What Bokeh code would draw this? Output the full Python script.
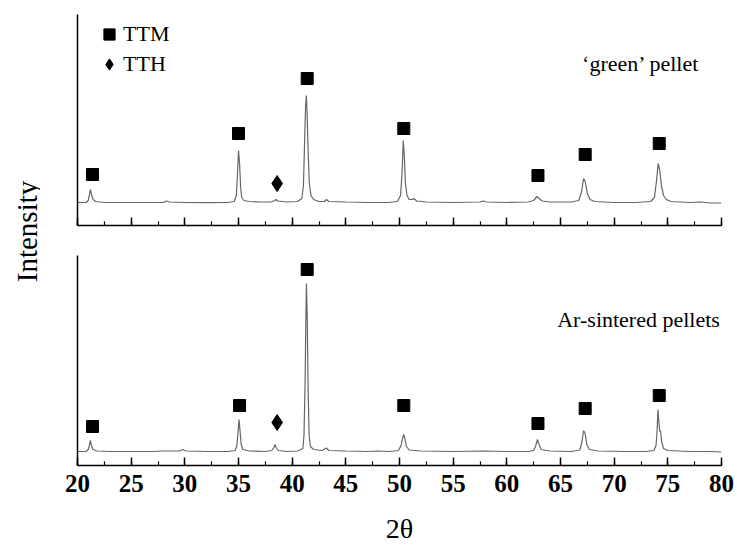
import math
from bokeh.plotting import figure
from bokeh.layouts import row, column
from bokeh.models import (Range1d, SingleIntervalTicker, FixedTicker, Label, Legend,
                          LegendItem, CustomJSTickFormatter)
from bokeh.embed import file_html
from bokeh.resources import INLINE

# ---------------- data ----------------
# 'green' pellet pattern
two_theta_green = [20.0, 20.8, 21.0, 21.1, 21.2, 21.3, 21.45, 21.7, 22.5, 24.0, 26.0, 28.0, 28.3, 28.6,
                   30.0, 32.0, 34.0, 34.6, 34.8, 34.9, 35.0, 35.1, 35.2, 35.3, 35.5, 36.0, 37.0, 38.0,
                   38.4, 38.5, 38.65, 39.5, 40.5, 40.9, 41.05, 41.15, 41.25, 41.32, 41.4, 41.5, 41.6,
                   41.75, 42.0, 42.5, 43.0, 43.2, 43.4, 45.0, 47.0, 49.0, 49.8, 50.1, 50.25, 50.35,
                   50.45, 50.55, 50.7, 50.9, 51.2, 51.35, 51.6, 52.5, 55.0, 57.5, 57.8, 58.1, 60.0,
                   62.0, 62.5, 62.8, 63.0, 63.3, 64.0, 66.0, 66.7, 66.95, 67.15, 67.3, 67.5, 67.75,
                   68.2, 70.0, 72.0, 73.4, 73.75, 73.95, 74.1, 74.25, 74.4, 74.6, 74.85, 75.3, 77.0,
                   78.0, 79.0, 80.0]
intensity_green = [23.0, 23.0, 25.0, 30.0, 36.0, 31.0, 26.0, 24.0, 23.0, 23.0, 23.0, 23.0, 24.5, 23.5,
                   23.0, 22.8, 23.0, 24.0, 30.0, 50.0, 75.0, 62.0, 38.0, 28.0, 25.0, 24.0, 23.5, 23.5,
                   25.0, 26.0, 24.5, 23.5, 24.0, 27.0, 40.0, 80.0, 120.0, 130.0, 110.0, 70.0, 42.0,
                   30.0, 26.0, 24.0, 24.0, 26.0, 24.0, 23.5, 23.0, 23.0, 24.0, 30.0, 55.0, 85.0,
                   70.0, 42.0, 30.0, 26.0, 26.0, 27.0, 24.5, 23.5, 23.0, 23.5, 24.5, 23.5, 23.0,
                   23.5, 25.0, 29.0, 27.0, 24.5, 23.5, 23.5, 25.0, 33.0, 47.0, 44.0, 32.0, 26.0,
                   24.0, 23.0, 23.0, 24.0, 28.0, 45.0, 62.0, 55.0, 40.0, 30.0, 26.0, 24.0, 23.0,
                   23.5, 22.5, 22.5]

# Ar-sintered pellets pattern
two_theta_ar = [20.0, 20.8, 21.0, 21.1, 21.2, 21.3, 21.45, 21.8, 23.0, 25.0, 27.0, 28.0, 29.5, 29.8,
                30.1, 32.0, 34.0, 34.7, 34.85, 34.95, 35.05, 35.15, 35.25, 35.4, 36.0, 37.5, 38.1,
                38.3, 38.4, 38.5, 38.7, 39.5, 40.5, 41.0, 41.1, 41.2, 41.28, 41.33, 41.4, 41.48,
                41.58, 41.7, 42.0, 42.8, 43.1, 43.2, 43.4, 45.0, 47.0, 48.0, 49.0, 49.9, 50.15,
                50.3, 50.4, 50.5, 50.65, 50.9, 52.0, 55.0, 57.8, 60.0, 62.0, 62.5, 62.7, 62.85,
                63.0, 63.2, 64.0, 66.0, 66.8, 67.0, 67.15, 67.3, 67.45, 67.7, 68.5, 71.0, 73.0,
                73.7, 73.9, 74.0, 74.08, 74.15, 74.25, 74.32, 74.42, 74.6, 75.0, 77.0, 79.0, 80.0]
intensity_ar = [14.0, 14.0, 16.0, 20.0, 25.0, 20.0, 16.0, 14.5, 14.0, 14.0, 14.0, 14.5, 14.5, 16.0,
                14.5, 14.0, 14.0, 15.0, 20.0, 32.0, 46.0, 34.0, 21.0, 16.0, 14.5, 14.0, 15.0,
                18.0, 21.0, 18.0, 15.0, 14.0, 14.5, 17.0, 30.0, 80.0, 150.0, 182.0, 150.0, 80.0,
                30.0, 19.0, 16.0, 15.0, 17.0, 17.5, 15.0, 14.5, 14.0, 14.5, 14.0, 15.0, 20.0,
                28.0, 31.0, 27.0, 19.0, 15.5, 14.5, 14.0, 14.5, 14.0, 14.0, 15.0, 20.0, 26.0,
                21.0, 16.0, 14.5, 14.0, 15.5, 24.0, 35.0, 32.0, 21.0, 16.0, 14.5, 14.0, 14.0,
                15.0, 20.0, 35.0, 56.0, 45.0, 34.0, 35.0, 24.0, 17.0, 15.0, 14.0, 14.0, 13.5]

# phase markers (position, marker height)
ttm_pos_green = [21.4, 35.0, 41.4, 50.4, 62.9, 67.3, 74.2]
ttm_h_green = [51, 92, 147, 97, 50, 71, 82]
tth_pos_green = [38.6]
tth_h_green = [42]

ttm_pos_ar = [21.4, 35.1, 41.4, 50.4, 62.9, 67.3, 74.2]
ttm_h_ar = [39, 60, 196, 60, 42, 57, 70]
tth_pos_ar = [38.6]
tth_h_ar = [43]

x_ticks_interval = 5
panel_names = ["\u2018green\u2019 pellet", "Ar-sintered pellets"]
legend_names = ["TTM", "TTH"]

FONT = "Liberation Serif"
LINE_COLOR = "#666666"


def make_panel(height, border_top, border_bottom, ymax, show_labels):
    p = figure(width=697, height=height, output_backend="svg", toolbar_location=None,
               x_range=Range1d(20, 80), y_range=Range1d(0, ymax),
               min_border_left=37, min_border_right=16,
               min_border_top=border_top, min_border_bottom=border_bottom)
    p.outline_line_color = None
    p.xgrid.visible = False
    p.ygrid.visible = False
    p.background_fill_color = "white"
    p.border_fill_color = "white"

    xa = p.xaxis[0]
    xa.ticker = SingleIntervalTicker(interval=x_ticks_interval, num_minor_ticks=2)
    xa.axis_line_color = "black"
    xa.axis_line_width = 1.5
    xa.major_tick_in = 8
    xa.major_tick_out = 0
    xa.minor_tick_in = 4
    xa.minor_tick_out = 0
    xa.major_tick_line_width = 1.5
    xa.minor_tick_line_width = 1.2
    xa.major_tick_line_color = "black"
    xa.minor_tick_line_color = "black"
    if show_labels:
        xa.major_label_text_font = FONT
        xa.major_label_text_font_style = "bold"
        xa.major_label_text_font_size = "25px"
        xa.major_label_text_color = "black"
        xa.major_label_standoff = 9
        xa.axis_label = "2\u03b8"
        xa.axis_label_text_font = FONT
        xa.axis_label_text_font_style = "normal"
        xa.axis_label_text_font_size = "28px"
        xa.axis_label_text_color = "black"
        xa.axis_label_standoff = 18
    else:
        xa.formatter = CustomJSTickFormatter(code="return ''")
        xa.major_label_text_font_size = "2px"
        xa.major_label_standoff = 0

    ya = p.yaxis[0]
    ya.ticker = FixedTicker(ticks=[])
    ya.axis_line_color = "black"
    ya.axis_line_width = 1.5
    ya.major_tick_in = 0
    ya.major_tick_out = 0
    ya.minor_tick_in = 0
    ya.minor_tick_out = 0
    ya.major_label_standoff = 0
    return p


# ---- top panel: 'green' pellet ----
p1 = make_panel(240, 14, 15, 211, False)
p1.line(two_theta_green, intensity_green, line_color=LINE_COLOR, line_width=1.2)
r_ttm1 = p1.scatter(ttm_pos_green, ttm_h_green, marker="square", size=12,
                    fill_color="black", line_color="black")
r_tth1 = p1.scatter(tth_pos_green, tth_h_green, marker="diamond", size=16,
                    fill_color="black", line_color="black")
p1.add_layout(Label(x=72.5, y=162, text=panel_names[0], text_font=FONT,
                    text_font_size="22px", text_align="center",
                    text_baseline="middle", text_color="black"))
leg = Legend(items=[LegendItem(label=legend_names[0], renderers=[r_ttm1]),
                    LegendItem(label=legend_names[1], renderers=[r_tth1])],
             location=(18, 147), orientation="vertical",
             glyph_width=28, glyph_height=28, label_height=28, label_width=40,
             label_standoff=0, spacing=2, padding=4, margin=0,
             label_text_font=FONT, label_text_font_size="22px",
             label_text_color="black", background_fill_alpha=0,
             border_line_color=None)
p1.add_layout(leg)

# ---- bottom panel: Ar-sintered pellets ----
p2 = make_panel(306, 15, 81, 210, True)
p2.line(two_theta_ar, intensity_ar, line_color=LINE_COLOR, line_width=1.2)
p2.scatter(ttm_pos_ar, ttm_h_ar, marker="square", size=12,
           fill_color="black", line_color="black")
p2.scatter(tth_pos_ar, tth_h_ar, marker="diamond", size=16,
           fill_color="black", line_color="black")
p2.add_layout(Label(x=79.85, y=146, text=panel_names[1], text_font=FONT,
                    text_font_size="22px", text_align="right",
                    text_baseline="middle", text_color="black"))

# ---- shared y-axis title ----
pl = figure(width=40, height=546, output_backend="svg", toolbar_location=None,
            x_range=Range1d(0, 40), y_range=Range1d(0, 546), min_border=0)
pl.axis.visible = False
pl.grid.visible = False
pl.outline_line_color = None
pl.add_layout(Label(x=26, y=546 - 231, text="Intensity", angle=math.pi / 2,
                    text_font=FONT, text_font_size="29px", text_align="center",
                    text_baseline="middle", text_color="black"))

layout = row(pl, column(p1, p2, spacing=0), spacing=0)

open("out.html", "w").write(file_html(layout, INLINE))
